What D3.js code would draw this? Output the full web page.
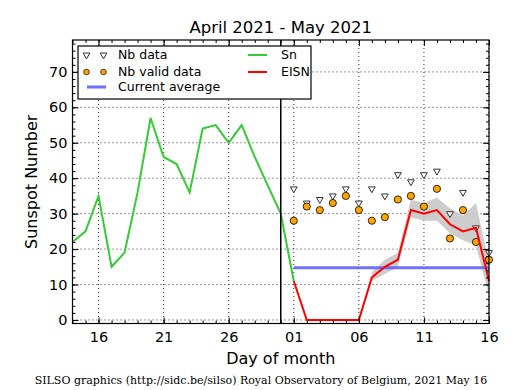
<!DOCTYPE html>
<html>
<head>
<meta charset="utf-8">
<title>Sunspot Number April 2021 - May 2021</title>
<style>
  body { margin: 0; background: #fff; }
  text { font-family: "DejaVu Sans", sans-serif; }
</style>
</head>
<body>
<main></main>
<script src="https://cdn.jsdelivr.net/npm/d3@7"></script>
<script>
// daily values, [month, day]
var snDays = [[4,14],[4,15],[4,16],[4,17],[4,18],[4,19],[4,20],[4,21],[4,22],[4,23],[4,24],[4,25],[4,26],[4,27],[4,28],[4,29],[4,30],[5,1]];
var snValues = [22, 25, 35, 15, 19, 36, 57, 46, 44, 36, 54, 55, 50, 55, 46, 38, 30, 11];

var mayDays = [1, 2, 3, 4, 5, 6, 7, 8, 9, 10, 11, 12, 13, 14, 15, 16];
var eisnValues = [11, 0, 0, 0, 0, 0, 12, 15, 17, 31, 30, 31, 27, 25, 26, 11];
var nbData = [37, 33, 34, 35, 37, 33, 37, 35, 41, 39, 41, 42, 30, 36, 26, 19];
var nbValid = [28, 32, 31, 33, 35, 31, 28, 29, 34, 35, 32, 37, 23, 31, 22, 17];

var bandDays = [7, 8, 9, 10, 11, 12, 13, 14, 15, 16];
var bandLow = [11, 13, 15, 29, 28, 28, 24.5, 22.5, 21, 7];
var bandHigh = [13.5, 17, 19, 34, 33, 34.5, 31.5, 29.5, 33, 16];

var currentAverage = 14.7;

var xTickDates = [[4,16],[4,21],[4,26],[5,1],[5,6],[5,11],[5,16]];
var xTickLabels = ["16", "21", "26", "01", "06", "11", "16"];
var yTicks = [0, 10, 20, 30, 40, 50, 60, 70];

function day(m, d) { return new Date(Date.UTC(2021, m - 1, d)); }

var width = 515, height = 390;
var pL = 72.5, pR = 489, pT = 40, pB = 323.5;

var svg = d3.select("main").append("svg")
    .attr("width", width).attr("height", height);

var x = d3.scaleUtc().domain([day(4, 14), day(5, 16)]).range([pL, pR]);
var y = d3.scaleLinear().domain([-1, 79]).range([pB, pT]);

// grid
var grid = svg.append("g").attr("stroke", "#000").attr("stroke-width", 0.8)
    .attr("stroke-dasharray", "1,3");
grid.selectAll(".gx").data(xTickDates).enter().append("line")
    .attr("x1", function (d) { return x(day(d[0], d[1])); })
    .attr("x2", function (d) { return x(day(d[0], d[1])); })
    .attr("y1", pT).attr("y2", pB);
grid.selectAll(".gy").data(yTicks).enter().append("line")
    .attr("x1", pL).attr("x2", pR)
    .attr("y1", function (d) { return y(d); })
    .attr("y2", function (d) { return y(d); });

// uncertainty band
var band = bandDays.map(function (d, i) { return { t: day(5, d), lo: bandLow[i], hi: bandHigh[i] }; });
svg.append("path").datum(band)
    .attr("fill", "#c8c8c8").attr("fill-opacity", 0.9)
    .attr("d", d3.area()
        .x(function (d) { return x(d.t); })
        .y0(function (d) { return y(d.lo); })
        .y1(function (d) { return y(d.hi); }));

// Nb data triangles
var tri = d3.symbol().type(d3.symbolTriangle).size(20);
svg.selectAll(".tri").data(nbData).enter().append("path")
    .attr("d", tri)
    .attr("transform", function (d, i) { return "translate(" + x(day(5, mayDays[i])) + "," + y(d) + ") rotate(180)"; })
    .attr("fill", "#fff").attr("stroke", "#333").attr("stroke-width", 1);

// Nb valid data circles
svg.selectAll(".dot").data(nbValid).enter().append("circle")
    .attr("cx", function (d, i) { return x(day(5, mayDays[i])); })
    .attr("cy", function (d) { return y(d); })
    .attr("r", 3.6)
    .attr("fill", "#ffa500").attr("stroke", "#000").attr("stroke-width", 0.8);

// current average
svg.append("line")
    .attr("x1", x(day(5, 1))).attr("x2", x(day(5, 16)))
    .attr("y1", y(currentAverage)).attr("y2", y(currentAverage))
    .attr("stroke", "#6060ff").attr("stroke-opacity", 0.9).attr("stroke-width", 3);

// Sn line
var line = d3.line().x(function (d) { return x(d.t); }).y(function (d) { return y(d.v); });
svg.append("path")
    .datum(snValues.map(function (v, i) { return { t: day(snDays[i][0], snDays[i][1]), v: v }; }))
    .attr("fill", "none").attr("stroke", "#33cc33").attr("stroke-width", 2)
    .attr("d", line);

// EISN line
svg.append("path")
    .datum(eisnValues.map(function (v, i) { return { t: day(5, mayDays[i]), v: v }; }))
    .attr("fill", "none").attr("stroke", "#ff0000").attr("stroke-width", 2)
    .attr("d", line);

// separator at end of Sn data
svg.append("line")
    .attr("x1", x(day(4, 30))).attr("x2", x(day(4, 30)))
    .attr("y1", pT).attr("y2", pB)
    .attr("stroke", "#000").attr("stroke-width", 1.5);

// axes (ticks inward, all four sides)
var xMajor = xTickDates.map(function (d) { return day(d[0], d[1]); });
var xMinor = d3.utcDay.range(day(4, 14), day(5, 17));
var yMinor = d3.range(0, 79, 2);

function axisGroup(axis, tx, ty) {
    var g = svg.append("g").attr("transform", "translate(" + tx + "," + ty + ")").call(axis);
    g.select(".domain").remove();
    g.selectAll("text").attr("font-family", "DejaVu Sans").attr("font-size", 14.5).attr("fill", "#000");
    return g;
}
var fmt = function (d, i) { return xTickLabels[i]; };
axisGroup(d3.axisBottom(x).tickValues(xMajor).tickFormat(fmt).tickSizeInner(-6).tickSizeOuter(0).tickPadding(8), 0, pB);
axisGroup(d3.axisBottom(x).tickValues(xMinor).tickFormat("").tickSizeInner(-3).tickSizeOuter(0), 0, pB);
axisGroup(d3.axisTop(x).tickValues(xMajor).tickFormat("").tickSizeInner(-6).tickSizeOuter(0), 0, pT);
axisGroup(d3.axisTop(x).tickValues(xMinor).tickFormat("").tickSizeInner(-3).tickSizeOuter(0), 0, pT);
axisGroup(d3.axisLeft(y).tickValues(yTicks).tickSizeInner(-6).tickSizeOuter(0).tickPadding(5), pL, 0);
axisGroup(d3.axisLeft(y).tickValues(yMinor).tickFormat("").tickSizeInner(-3).tickSizeOuter(0), pL, 0);
axisGroup(d3.axisRight(y).tickValues(yTicks).tickFormat("").tickSizeInner(-6).tickSizeOuter(0), pR, 0);
axisGroup(d3.axisRight(y).tickValues(yMinor).tickFormat("").tickSizeInner(-3).tickSizeOuter(0), pR, 0);

svg.append("rect")
    .attr("x", pL).attr("y", pT).attr("width", pR - pL).attr("height", pB - pT)
    .attr("fill", "none").attr("stroke", "#000").attr("stroke-width", 1.2);

// legend
var lg = svg.append("g").attr("transform", "translate(78,46)");
lg.append("rect").attr("width", 233).attr("height", 53)
    .attr("fill", "#fff").attr("stroke", "#000").attr("stroke-width", 1.2);
[8.5, 25.5].forEach(function (dx) {
    lg.append("path").attr("d", tri)
        .attr("transform", "translate(" + dx + ",9) rotate(180)")
        .attr("fill", "#fff").attr("stroke", "#333");
    lg.append("circle").attr("cx", dx).attr("cy", 26).attr("r", 2.8)
        .attr("fill", "#ffa500").attr("stroke", "#000").attr("stroke-width", 0.7);
});
lg.append("line").attr("x1", 9).attr("x2", 28).attr("y1", 41).attr("y2", 41)
    .attr("stroke", "#6060ff").attr("stroke-opacity", 0.9).attr("stroke-width", 3);
lg.append("line").attr("x1", 170).attr("x2", 189).attr("y1", 9).attr("y2", 9)
    .attr("stroke", "#33cc33").attr("stroke-width", 2);
lg.append("line").attr("x1", 170).attr("x2", 189).attr("y1", 26).attr("y2", 26)
    .attr("stroke", "#ff0000").attr("stroke-width", 2);
var legendText = [["Nb data", 40, 9], ["Nb valid data", 40, 26], ["Current average", 40, 41], ["Sn", 203, 9], ["EISN", 203, 26]];
lg.selectAll(".lt").data(legendText).enter().append("text")
    .attr("x", function (d) { return d[1]; }).attr("y", function (d) { return d[2]; })
    .attr("dy", "0.35em").attr("font-size", 12.5).text(function (d) { return d[0]; });

// titles
svg.append("text").attr("x", (pL + pR) / 2).attr("y", 33)
    .attr("text-anchor", "middle").attr("font-size", 16.5).text("April 2021 - May 2021");
svg.append("text").attr("x", (pL + pR) / 2).attr("y", 364)
    .attr("text-anchor", "middle").attr("font-size", 16).text("Day of month");
svg.append("text").attr("transform", "translate(37," + (pT + pB) / 2 + ") rotate(-90)")
    .attr("text-anchor", "middle").attr("font-size", 16).text("Sunspot Number");
svg.append("text").attr("x", 261).attr("y", 384)
    .attr("text-anchor", "middle").attr("font-size", 11)
    .style("font-family", "DejaVu Serif")
    .text("SILSO graphics (http://sidc.be/silso) Royal Observatory of Belgium, 2021 May 16");
</script>
</body>
</html>
